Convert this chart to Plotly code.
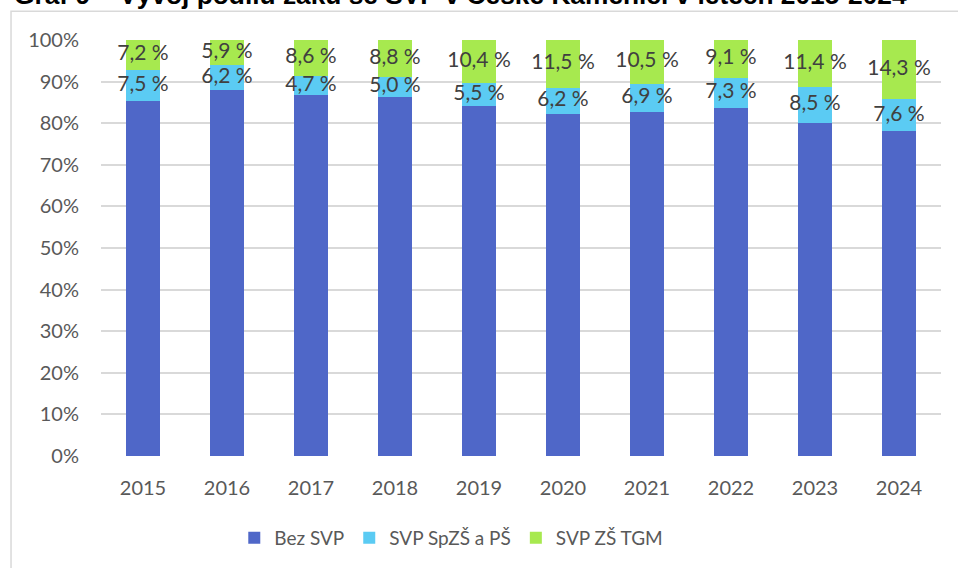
import plotly.graph_objects as go

years = ["2015", "2016", "2017", "2018", "2019", "2020", "2021", "2022", "2023", "2024"]
bez_svp = [85.3, 87.9, 86.7, 86.2, 84.1, 82.3, 82.6, 83.6, 80.1, 78.1]
svp_spzs = [7.5, 6.2, 4.7, 5.0, 5.5, 6.2, 6.9, 7.3, 8.5, 7.6]
svp_tgm = [7.2, 5.9, 8.6, 8.8, 10.4, 11.5, 10.5, 9.1, 11.4, 14.3]
series_names = ["Bez SVP", "SVP SpZŠ a PŠ", "SVP ZŠ TGM"]
title_text = "Graf 9 – Vývoj podílu žáků se SVP v České Kamenici v letech 2015-2024"

colors = ["#4F67C8", "#5BCBF3", "#A7E94F"]
label_font = dict(family="Lato, 'DejaVu Sans', sans-serif", size=21, color="#404040")
axis_font = dict(family="Lato, 'DejaVu Sans', sans-serif", size=20, color="#595959")
legend_font = dict(family="Lato, 'DejaVu Sans', sans-serif", size=19, color="#595959")

def fmt(v):
    return f"{v:.1f}".replace(".", ",") + " %"

fig = go.Figure()
for name, vals, col in zip(series_names, [bez_svp, svp_spzs, svp_tgm], colors):
    fig.add_trace(go.Bar(x=years, y=vals, name=name, marker=dict(color=col, line=dict(width=0)),
                         hoverinfo="skip"))

mid_spzs = [b + s / 2 for b, s in zip(bez_svp, svp_spzs)]
mid_tgm = [b + s + t / 2 for b, s, t in zip(bez_svp, svp_spzs, svp_tgm)]
fig.add_trace(go.Scatter(x=years, y=mid_spzs, mode="text", text=[fmt(v) for v in svp_spzs],
                         textfont=label_font, showlegend=False, hoverinfo="skip", cliponaxis=False))
fig.add_trace(go.Scatter(x=years, y=mid_tgm, mode="text", text=[fmt(v) for v in svp_tgm],
                         textfont=label_font, showlegend=False, hoverinfo="skip", cliponaxis=False))

fig.update_layout(
    barmode="stack",
    bargap=0.6,
    width=958, height=568,
    margin=dict(l=101, r=17, t=40, b=111),
    paper_bgcolor="white", plot_bgcolor="white",
    showlegend=True,
    legend=dict(orientation="h", x=0.417, xanchor="center", y=-0.194, yanchor="middle",
                font=legend_font, itemwidth=30, traceorder="normal"),
    xaxis=dict(type="category", showgrid=False, showline=False, tickfont=axis_font,
               ticklabelstandoff=18, zeroline=False),
    yaxis=dict(range=[0, 100], dtick=10, ticksuffix="%", showgrid=True, gridcolor="#D9D9D9",
               gridwidth=1.5, zeroline=False, showline=False, tickfont=axis_font,
               ticklabelstandoff=21),
    shapes=[dict(type="rect", xref="paper", yref="paper", x0=-0.1071, x1=1.3, y0=-0.5, y1=1.069,
                 line=dict(color="#D9D9D9", width=1.5), layer="below")],
    annotations=[dict(text="<b>" + title_text + "</b>", xref="paper", yref="paper",
                      x=-0.106, xanchor="left", y=1.108, yanchor="middle", showarrow=False,
                      font=dict(family="Liberation Sans, Arial, sans-serif", size=26.3, color="#000000"))],
)
fig.write_html("out.html", config={"displayModeBar": False},
               post_script="document.body.style.margin='0px';")
